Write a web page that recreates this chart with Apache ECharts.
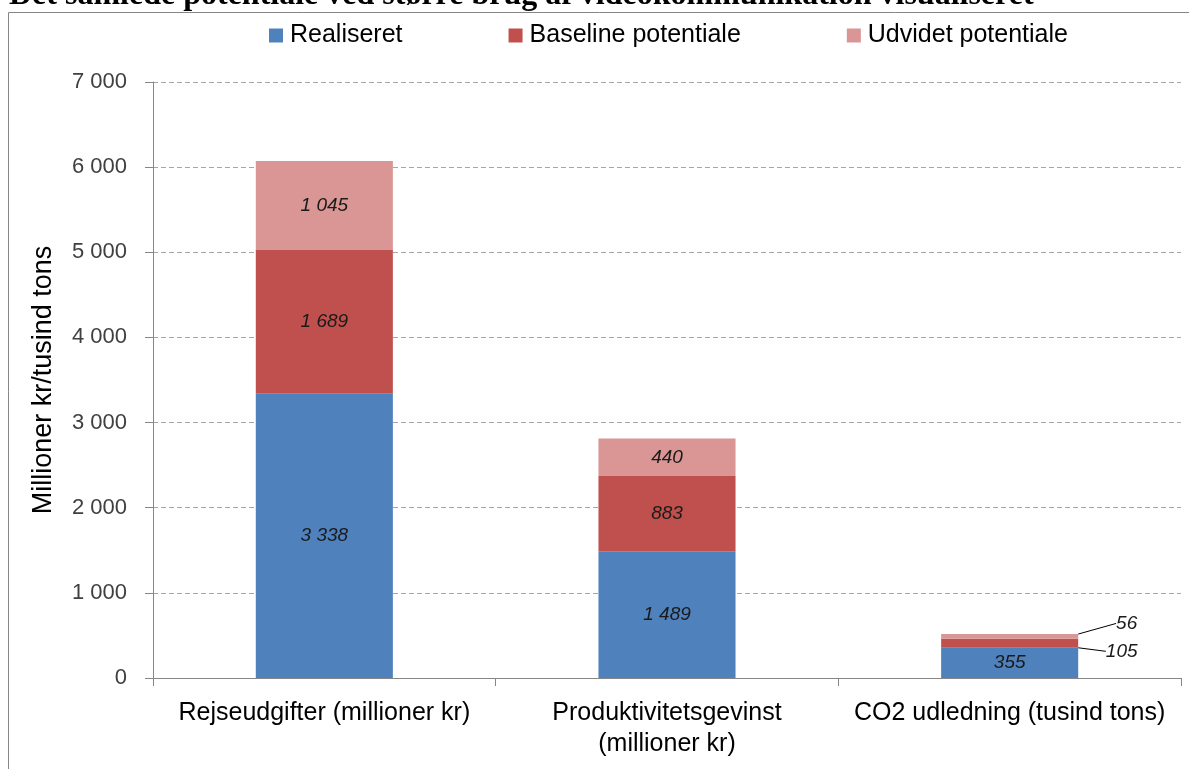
<!DOCTYPE html>
<html>
<head>
<meta charset="utf-8">
<script src="https://cdn.jsdelivr.net/npm/echarts@6/dist/echarts.min.js"></script>
<style>
  html, body { margin: 0; padding: 0; background: #fff; }
  #chart { width: 1189px; height: 769px; }
</style>
</head>
<body>
<div id="chart"></div>
<script>
var categories = ['Rejseudgifter (millioner kr)', 'Produktivitetsgevinst\n(millioner kr)', 'CO2 udledning (tusind tons)'];
var realiseret = [3338, 1489, 355];
var baseline = [1689, 883, 105];
var udvidet = [1045, 440, 56];
var yTicks = [0, 1000, 2000, 3000, 4000, 5000, 6000, 7000];

function fmt(v) {
    // dansk tusindtalsseparator (mellemrum)
    return String(v).replace(/\B(?=(\d{3})+(?!\d))/g, ' ');
}

var myChart = echarts.init(document.getElementById('chart'));

var labelStyle = {
    show: true,
    position: 'inside',
    fontFamily: 'Liberation Sans, Arial',
    fontStyle: 'italic',
    fontSize: 19,
    color: '#1a1a1a',
    formatter: function (p) { return fmt(p.value); }
};

// små segmenter i sidste søjle: label flyttes ud til højre med streg
function smallLabelLayout(dx, dy) {
    return function (params) {
        if (params.dataIndex === 2) {
            return { dx: dx, dy: dy };
        }
    };
}

var option = {
    animation: false,
    title: {
        text: 'Det samlede potentiale ved større brug af videokommunikation visualiseret',
        left: 4,
        top: -25,
        textStyle: {
            fontFamily: 'Liberation Serif, Times New Roman',
            fontWeight: 'bold',
            fontSize: 32,
            color: '#000'
        }
    },
    graphic: [{
        type: 'rect',
        shape: { x: 8.5, y: 12.5, width: 1200, height: 800 },
        style: { fill: 'none', stroke: '#868686', lineWidth: 1 },
        z: -1
    }],
    legend: {
        top: 18,
        left: 264,
        itemWidth: 14,
        itemHeight: 14,
        itemGap: 106,
        icon: 'rect',
        textStyle: {
            fontFamily: 'Liberation Sans, Arial',
            fontSize: 25,
            color: '#000',
            padding: [0, 0, 0, 2]
        },
        data: ['Realiseret', 'Baseline potentiale', 'Udvidet potentiale']
    },
    grid: {
        left: 153,
        right: 8,
        top: 82,
        bottom: 91
    },
    xAxis: {
        type: 'category',
        data: categories,
        axisLine: { lineStyle: { color: '#868686' } },
        axisTick: { show: true, length: 8, lineStyle: { color: '#868686' } },
        axisLabel: {
            interval: 0,
            hideOverlap: false,
            margin: 20,
            fontFamily: 'Liberation Sans, Arial',
            fontSize: 25,
            lineHeight: 31,
            color: '#000'
        }
    },
    yAxis: {
        type: 'value',
        min: yTicks[0],
        max: yTicks[yTicks.length - 1],
        interval: 1000,
        name: 'Millioner kr/tusind tons',
        nameLocation: 'middle',
        nameGap: 96,
        nameTextStyle: {
            fontFamily: 'Liberation Sans, Arial',
            fontSize: 27,
            color: '#000'
        },
        axisLine: { show: true, lineStyle: { color: '#868686' } },
        axisTick: { show: true, length: 8, lineStyle: { color: '#868686' } },
        axisLabel: {
            margin: 26,
            fontFamily: 'Liberation Sans, Arial',
            fontSize: 22,
            color: '#404040',
            formatter: fmt
        },
        splitLine: {
            lineStyle: { color: '#a6a6a6', type: [5, 3] }
        }
    },
    series: [
        {
            name: 'Realiseret',
            type: 'bar',
            stack: 'total',
            barWidth: '40%',
            itemStyle: { color: '#4F81BD' },
            label: labelStyle,
            data: realiseret
        },
        {
            name: 'Baseline potentiale',
            type: 'bar',
            stack: 'total',
            itemStyle: { color: '#C0504D' },
            label: labelStyle,
            labelLine: { show: true, lineStyle: { color: '#000', width: 1 } },
            labelLayout: smallLabelLayout(112, 8),
            data: baseline
        },
        {
            name: 'Udvidet potentiale',
            type: 'bar',
            stack: 'total',
            itemStyle: { color: '#D99694' },
            label: labelStyle,
            labelLine: { show: true, lineStyle: { color: '#000', width: 1 } },
            labelLayout: smallLabelLayout(117, -13),
            data: udvidet
        }
    ]
};

myChart.setOption(option);
</script>
</body>
</html>
